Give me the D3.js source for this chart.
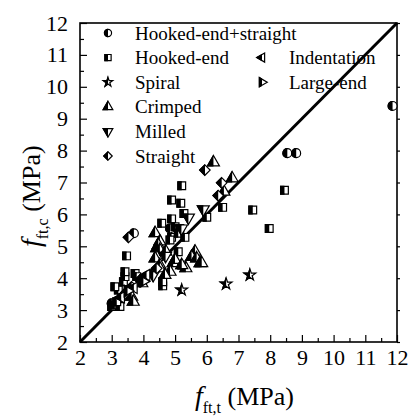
<!DOCTYPE html>
<html><head><meta charset="utf-8"><script src="https://cdn.jsdelivr.net/npm/d3@7"></script>
<style>
@font-face { font-family: "ChartSerif"; src: local("Liberation Serif"), local("LiberationSerif"), local("Times New Roman"); font-style: normal; }
@font-face { font-family: "ChartSerif"; src: local("Liberation Serif Italic"), local("LiberationSerif-Italic"), local("Times New Roman Italic"); font-style: italic; }
</style>
</head>
<body style="margin:0">
<script>
var serif = "'Liberation Serif', ChartSerif, 'Times New Roman', Tinos";

// data: [f_ft,t, f_ft,c]
var hookedStraight = [[3.0,3.21],[3.05,3.13],[3.70,5.41],[4.84,5.56],[8.54,7.92],[8.82,7.92],[11.86,9.40]];
var hookedEnd = [[3.0,3.11],[3.10,3.16],[3.26,3.11],[3.16,3.26],[3.32,3.47],[3.21,3.63],[3.10,3.73],
  [3.37,3.89],[3.42,4.05],[3.42,4.20],[3.74,4.15],[3.79,4.05],[3.47,4.70],[4.61,3.76],[4.61,3.89],
  [4.58,5.72],[4.89,5.86],[4.89,6.45],[5.18,6.35],[5.21,6.90],[5.28,6.03],[5.00,5.61],[5.15,5.56],
  [4.89,5.28],[5.10,5.41],[5.31,5.28],[4.84,5.20],[5.10,4.83],[5.21,4.41],[6.00,5.91],[6.50,6.22],
  [7.45,6.14],[7.97,5.56],[8.45,6.76]];
var spiral = [[5.21,3.63],[6.61,3.82],[7.36,4.10]];
var crimped = [[3.63,3.42],[3.68,3.26],[3.95,3.84],[4.37,5.41],[4.52,5.15],[4.42,4.94],[4.47,5.04],
  [4.52,4.88],[4.42,4.67],[4.37,4.62],[4.52,4.41],[4.71,4.83],[4.94,4.47],[5.00,4.57],[4.84,4.20],
  [4.52,4.31],[4.68,4.10],[5.63,4.83],[5.52,4.67],[5.68,4.62],[5.79,4.47],[5.34,4.31],[5.21,4.41],
  [5.84,4.47],[6.21,7.63],[6.80,7.13],[6.54,6.71]];
var milled = [[4.31,4.10],[5.42,5.90],[5.89,6.16],[5.20,5.56],[4.70,4.70]];
var straight = [[3.53,5.28],[3.63,3.73],[3.89,3.94],[4.42,4.31],[5.94,7.39],[6.47,6.99],[6.36,6.59],[3.40,3.50]];
var indentation = [[3.30,3.40],[3.70,3.70],[4.10,4.10]];
var largeEnd = [[3.50,3.60],[4.00,3.90]];

var seriesNames = ["Hooked-end+straight","Hooked-end","Spiral","Crimped","Milled","Straight","Indentation","Large-end"];
var xTickValues = [2,3,4,5,6,7,8,9,10,11,12];
var yTickValues = [2,3,4,5,6,7,8,9,10,11,12];

var width = 410, height = 419;
var margin = {top: 23, right: 13, bottom: 77, left: 80};

var svg = d3.select("body").append("svg")
    .attr("width", width)
    .attr("height", height)
    .attr("font-family", "Liberation Serif");

var x = d3.scaleLinear().domain([2, 12]).range([margin.left, width - margin.right]);
var y = d3.scaleLinear().domain([2, 12]).range([height - margin.bottom, margin.top]);

// clip for the half-filled markers (left half black)
svg.append("defs").append("clipPath").attr("id", "lefthalf")
  .append("rect").attr("x", -20).attr("y", -20).attr("width", 20).attr("height", 40);

// minor ticks (every 0.5)
var minor = d3.range(2.5, 12, 1);
svg.append("g")
    .attr("transform", "translate(0," + y(2) + ")")
    .call(d3.axisBottom(x).tickValues(minor).tickSize(-4).tickFormat(""))
    .call(function(g) { g.select(".domain").remove(); g.selectAll("text").remove(); });
svg.append("g")
    .attr("transform", "translate(" + x(2) + ",0)")
    .call(d3.axisLeft(y).tickValues(minor).tickSize(-4).tickFormat(""))
    .call(function(g) { g.select(".domain").remove(); g.selectAll("text").remove(); });

// major ticks + labels
var xAxis = svg.append("g")
    .attr("transform", "translate(0," + y(2) + ")")
    .call(d3.axisBottom(x).tickValues(xTickValues).tickSizeInner(-7).tickSizeOuter(0).tickPadding(7).tickFormat(d3.format("d")));
xAxis.select(".domain").remove();
xAxis.attr("font-family", null);
xAxis.selectAll("text").style("font-family", serif).style("font-size", "22px");

var yAxis = svg.append("g")
    .attr("transform", "translate(" + x(2) + ",0)")
    .call(d3.axisLeft(y).tickValues(yTickValues).tickSizeInner(-7).tickSizeOuter(0).tickPadding(12).tickFormat(d3.format("d")));
yAxis.select(".domain").remove();
yAxis.attr("font-family", null);
yAxis.selectAll("text").style("font-family", serif).style("font-size", "22px");

// small outside ticks on the right edge
svg.append("g")
    .attr("transform", "translate(" + x(12) + ",0)")
    .call(d3.axisRight(y).tickValues(yTickValues).tickSize(3).tickFormat(""))
    .call(function(g) { g.select(".domain").remove(); g.selectAll("text").remove(); });

svg.selectAll(".tick line").attr("stroke", "#000").attr("stroke-width", 1.2);

// frame
svg.append("rect")
    .attr("x", x(2)).attr("y", y(12))
    .attr("width", x(12) - x(2)).attr("height", y(2) - y(12))
    .attr("fill", "none").attr("stroke", "#000").attr("stroke-width", 1.6);

// 1:1 line
svg.append("line")
    .attr("x1", x(2)).attr("y1", y(2))
    .attr("x2", x(12)).attr("y2", y(12))
    .attr("stroke", "#000").attr("stroke-width", 3);

var seriesData = [hookedStraight, hookedEnd, spiral, crimped, milled, straight, indentation, largeEnd];
var symTypes = [d3.symbolCircle, d3.symbolSquare, d3.symbolStar, d3.symbolTriangle,
                d3.symbolTriangle, d3.symbolDiamond2, d3.symbolTriangle, d3.symbolTriangle];
var symSizes = [62, 60, 42, 62, 62, 70, 55, 55];
var symRot = [0, 0, 0, 0, 180, 0, -90, 90];

function drawMarker(g, i, scale) {
  var path = d3.symbol().type(symTypes[i]).size(symSizes[i] * scale)();
  var rot = "rotate(" + symRot[i] + ")";
  g.append("path").attr("d", path).attr("transform", rot)
    .attr("fill", "#fff").attr("stroke", "#000").attr("stroke-width", 1.2);
  g.append("g").attr("clip-path", "url(#lefthalf)")
    .append("path").attr("d", path).attr("transform", rot)
    .attr("fill", "#000").attr("stroke", "#000").attr("stroke-width", 1.2);
}

// points
seriesData.forEach(function(data, i) {
  svg.append("g")
    .selectAll("g")
    .data(data)
    .enter().append("g")
      .attr("transform", function(d) { return "translate(" + x(d[0]) + "," + y(d[1]) + ")"; })
      .each(function() { drawMarker(d3.select(this), i, 1); });
});

// legend
seriesNames.forEach(function(name, i) {
  var col = i < 6 ? 0 : 1;
  var row = i < 6 ? i : i - 5;
  var lx = col == 0 ? 108 : 262;
  var ly = 33 + row * 24.6;
  drawMarker(svg.append("g").attr("transform", "translate(" + lx + "," + ly + ")"), i, 0.65);
  svg.append("text")
    .attr("x", lx + 27).attr("y", ly + 6.5)
    .style("font-family", serif)
    .style("font-size", "19px")
    .text(name);
});

// axis titles
var xt = svg.append("text")
    .attr("x", 195).attr("y", 405)
    .style("font-family", serif)
    .style("font-size", "26px");
xt.append("tspan").style("font-style", "italic").style("font-size", "28px").text("f");
xt.append("tspan").attr("dy", 8).style("font-size", "16px").text("ft,t");
xt.append("tspan").attr("dy", -8).text(" (MPa)");

var yt = svg.append("text")
    .attr("transform", "translate(40,247) rotate(-90)")
    .style("font-family", serif)
    .style("font-size", "26px");
yt.append("tspan").style("font-style", "italic").style("font-size", "28px").text("f");
yt.append("tspan").attr("dy", 8).style("font-size", "16px").text("ft,c");
yt.append("tspan").attr("dy", -8).text(" (MPa)");
</script>
</body></html>
